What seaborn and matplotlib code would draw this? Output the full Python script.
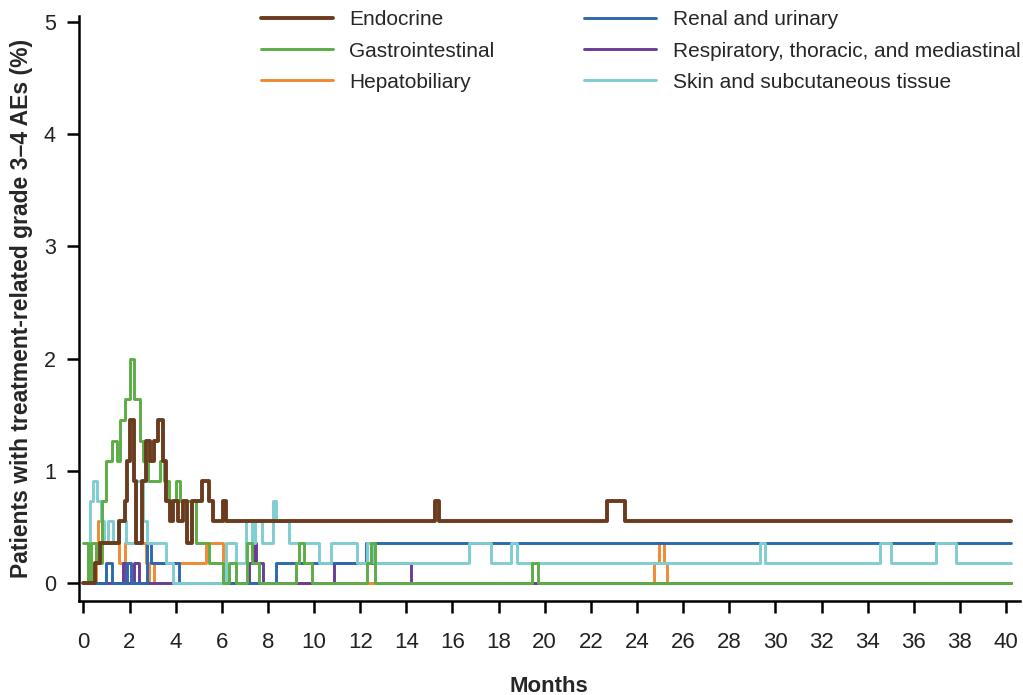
import matplotlib
matplotlib.use("Agg")
import matplotlib.pyplot as plt
import pandas as pd
import seaborn as sns

# Step data: month at which each level starts, and the % level.
ENDO_T = [0, 0.5, 0.7, 1.55, 1.8, 1.9, 2.0, 2.2, 2.3, 2.55, 2.7, 2.9, 3.05, 3.25, 3.45,
          3.6, 3.75, 3.9, 4.1, 4.3, 4.5, 4.7, 5.15, 5.45, 5.6, 6.05, 6.2, 15.25, 15.4,
          22.7, 23.5, 40.2]
ENDO_PCT = [0, 0.18, 0.36, 0.55, 0.73, 1.09, 1.45, 0.91, 0.36, 0.91, 1.27, 1.09, 1.27, 1.45,
            1.09, 0.73, 0.55, 0.73, 0.55, 0.73, 0.36, 0.73, 0.91, 0.73, 0.55, 0.73, 0.55,
            0.73, 0.55, 0.73, 0.55, 0.55]

GI_T = [0, 0.2, 0.35, 0.55, 0.8, 1.0, 1.25, 1.45, 1.6, 1.8, 2.0, 2.2, 2.45, 2.6, 2.8, 3.3,
        3.5, 3.7, 4.0, 4.2, 4.9, 5.45, 6.05, 6.3, 6.6, 7.1, 7.3, 7.6, 9.2, 9.35, 9.55, 9.9,
        12.3, 12.45, 12.65, 19.45, 19.7, 40.2]
GI_PCT = [0.36, 0, 0.36, 0.18, 0.73, 1.09, 1.27, 1.09, 1.45, 1.64, 2.0, 1.64, 1.27, 1.09,
          0.91, 1.09, 0.91, 0.73, 0.91, 0.73, 0.36, 0.18, 0, 0.18, 0, 0.36, 0.18, 0, 0.18,
          0.36, 0.18, 0, 0.18, 0.36, 0, 0.18, 0, 0]

HEPATO_T = [0, 0.55, 0.65, 0.8, 1.55, 1.8, 2.7, 2.85, 3.05, 5.3, 6.05, 24.75, 24.95, 25.15,
            25.3, 40.2]
HEPATO_PCT = [0, 0.36, 0.55, 0.36, 0.18, 0.36, 0.18, 0, 0.18, 0.36, 0, 0.18, 0.36, 0.18,
              0, 0]

RENAL_T = [0, 1.0, 1.25, 1.9, 2.05, 2.75, 2.95, 4.15, 8.35, 12.25, 40.2]
RENAL_PCT = [0, 0.18, 0, 0.18, 0, 0.36, 0.18, 0, 0.18, 0.36, 0.36]

RESP_T = [0, 1.7, 1.85, 2.2, 2.4, 7.2, 7.4, 7.5, 7.8, 10.85, 14.2, 40.2]
RESP_PCT = [0, 0.18, 0, 0.18, 0, 0.18, 0.36, 0.18, 0, 0.18, 0, 0]

SKIN_T = [0, 0.2, 0.3, 0.4, 0.6, 0.75, 0.9, 1.05, 1.3, 1.55, 1.85, 2.3, 2.6, 2.75, 3.6,
          3.9, 6.2, 6.6, 7.05, 7.3, 7.45, 7.75, 8.2, 8.35, 8.9, 10.2, 10.75, 11.85, 12.3,
          12.6, 16.7, 17.65, 18.55, 18.8, 29.35, 29.55, 34.55, 35.0, 36.95, 37.85, 40.2]
SKIN_PCT = [0, 0.36, 0.73, 0.91, 0.73, 0.55, 0.36, 0.55, 0.36, 0.55, 0.36, 0.91, 0.55, 0.36,
            0.18, 0, 0.36, 0.18, 0.55, 0.36, 0.55, 0.36, 0.73, 0.55, 0.36, 0.18, 0.36, 0.18,
            0.36, 0.18, 0.36, 0.18, 0.36, 0.18, 0.36, 0.18, 0.36, 0.18, 0.36, 0.18, 0.18]

LEGEND_ORDER = ["Endocrine", "Gastrointestinal", "Hepatobiliary",
                "Renal and urinary", "Respiratory, thoracic, and mediastinal",
                "Skin and subcutaneous tissue"]

SERIES = {
    "Hepatobiliary": (HEPATO_T, HEPATO_PCT),
    "Respiratory, thoracic, and mediastinal": (RESP_T, RESP_PCT),
    "Renal and urinary": (RENAL_T, RENAL_PCT),
    "Skin and subcutaneous tissue": (SKIN_T, SKIN_PCT),
    "Gastrointestinal": (GI_T, GI_PCT),
    "Endocrine": (ENDO_T, ENDO_PCT),
}

COLORS = {
    "Endocrine": "#6b3b1e",
    "Gastrointestinal": "#5cad46",
    "Hepatobiliary": "#f08932",
    "Renal and urinary": "#2e68b0",
    "Respiratory, thoracic, and mediastinal": "#6a3c96",
    "Skin and subcutaneous tissue": "#7fcdd3",
}

sns.set_style("ticks")
plt.rcParams["font.family"] = ["Liberation Sans", "DejaVu Sans"]

fig = plt.figure(figsize=(10.23, 6.95), dpi=100)
ax = fig.add_axes([0.077, 0.135, 0.92, 0.842])

handles = {}
for name, (t, pct) in SERIES.items():
    df = pd.DataFrame({"Months": t, "Pct": pct})
    sns.lineplot(data=df, x="Months", y="Pct", drawstyle="steps-post",
                 color=COLORS[name], linewidth=2.8 if name == "Endocrine" else 2.1,
                 estimator=None, sort=False, legend=False, ax=ax)
    handles[name] = ax.lines[-1]

ax.set_xlim(-0.2, 40.6)
ax.set_ylim(-0.16, 5.05)
ax.set_xticks(range(0, 41, 2))
ax.set_yticks(range(0, 6))
sns.despine(ax=ax)
for side in ("left", "bottom"):
    ax.spines[side].set_linewidth(1.8)
    ax.spines[side].set_color("black")
ax.tick_params(axis="both", length=8.5, width=1.8, color="black")
ax.tick_params(axis="x", pad=14, labelsize=16, labelcolor="#222222")
ax.tick_params(axis="y", pad=8, labelsize=15.5, labelcolor="#222222")

ax.set_xlabel("Months", fontsize=16, fontweight="bold", labelpad=16)
ax.set_ylabel("Patients with treatment-related grade 3\u20134 AEs (%)",
              fontsize=16.5, fontweight="bold", labelpad=8)

fig.legend(handles=[handles[n] for n in LEGEND_ORDER], labels=LEGEND_ORDER,
           loc="upper left", bbox_to_anchor=(0.255, 0.985), ncol=2, frameon=False,
           prop={"size": 15}, handlelength=3.45, handletextpad=0.8,
           columnspacing=4.3, labelspacing=0.58, borderpad=0, borderaxespad=0)

fig.savefig("out.png", dpi=100)
